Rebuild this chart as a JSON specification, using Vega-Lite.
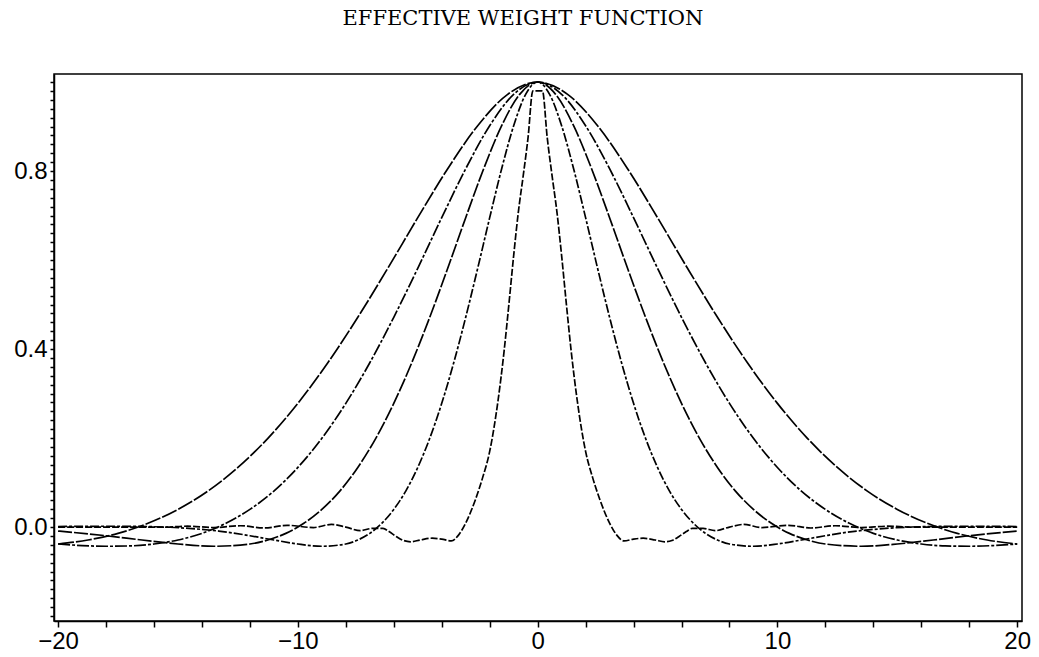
{
"$schema": "https://vega.github.io/schema/vega-lite/v6.json",
"width": 968, "height": 547,
"autosize": {"type": "none"},
"padding": {"left": 54, "top": 74, "right": 17, "bottom": 36},
"background": "white",
"title": {"text": "EFFECTIVE WEIGHT FUNCTION", "font": "DejaVu Serif", "fontSize": 21, "fontWeight": "normal", "color": "black", "offset": 41, "dx": -15},
"config": {
  "view": {"stroke": "black", "strokeWidth": 1.5},
  "axis": {"domainColor": "black", "domainWidth": 1.5, "tickColor": "black", "tickWidth": 1.5, "labelFont": "Liberation Sans", "labelFontSize": 24, "labelColor": "black", "grid": false, "labelOverlap": false, "labelFlush": false, "title": null, "labelPadding": 2}
},
"data": {"values": [
{"c":"A","x":-20,"y":-0.038},{"c":"A","x":-18.75,"y":-0.029},{"c":"A","x":-17.5,"y":-0.0141},{"c":"A","x":-16.25,"y":0.0085},{"c":"A","x":-15,"y":0.0397},{"c":"A","x":-13.75,"y":0.0809},{"c":"A","x":-12.5,"y":0.134},{"c":"A","x":-11.25,"y":0.1995},{"c":"A","x":-10,"y":0.278},{"c":"A","x":-8.75,"y":0.3692},{"c":"A","x":-7.5,"y":0.4714},{"c":"A","x":-6.25,"y":0.5815},{"c":"A","x":-5,"y":0.6952},{"c":"A","x":-3.75,"y":0.8052},{"c":"A","x":-2.5,"y":0.9018},{"c":"A","x":-1.25,"y":0.9723},{"c":"A","x":0,"y":1},
{"c":"A","x":1.25,"y":0.9723},{"c":"A","x":2.5,"y":0.9018},{"c":"A","x":3.75,"y":0.8052},{"c":"A","x":5,"y":0.6952},{"c":"A","x":6.25,"y":0.5815},{"c":"A","x":7.5,"y":0.4714},{"c":"A","x":8.75,"y":0.3692},{"c":"A","x":10,"y":0.278},{"c":"A","x":11.25,"y":0.1995},{"c":"A","x":12.5,"y":0.134},{"c":"A","x":13.75,"y":0.0809},{"c":"A","x":15,"y":0.0397},{"c":"A","x":16.25,"y":0.0085},{"c":"A","x":17.5,"y":-0.0141},{"c":"A","x":18.75,"y":-0.029},{"c":"A","x":20,"y":-0.038},
{"c":"B","x":-20,"y":-0.038},{"c":"B","x":-19,"y":-0.0415},{"c":"B","x":-18,"y":-0.0431},{"c":"B","x":-17,"y":-0.0423},{"c":"B","x":-16,"y":-0.038},{"c":"B","x":-15,"y":-0.029},{"c":"B","x":-14,"y":-0.0141},{"c":"B","x":-13,"y":0.0085},{"c":"B","x":-12,"y":0.0397},{"c":"B","x":-11,"y":0.0809},{"c":"B","x":-10,"y":0.134},{"c":"B","x":-9,"y":0.1995},{"c":"B","x":-8,"y":0.278},{"c":"B","x":-7,"y":0.3692},{"c":"B","x":-6,"y":0.4714},{"c":"B","x":-5,"y":0.5815},{"c":"B","x":-4,"y":0.6952},{"c":"B","x":-3,"y":0.8052},{"c":"B","x":-2,"y":0.9018},{"c":"B","x":-1,"y":0.9723},{"c":"B","x":0,"y":1},
{"c":"B","x":1,"y":0.9723},{"c":"B","x":2,"y":0.9018},{"c":"B","x":3,"y":0.8052},{"c":"B","x":4,"y":0.6952},{"c":"B","x":5,"y":0.5815},{"c":"B","x":6,"y":0.4714},{"c":"B","x":7,"y":0.3692},{"c":"B","x":8,"y":0.278},{"c":"B","x":9,"y":0.1995},{"c":"B","x":10,"y":0.134},{"c":"B","x":11,"y":0.0809},{"c":"B","x":12,"y":0.0397},{"c":"B","x":13,"y":0.0085},{"c":"B","x":14,"y":-0.0141},{"c":"B","x":15,"y":-0.029},{"c":"B","x":16,"y":-0.038},{"c":"B","x":17,"y":-0.0423},{"c":"B","x":18,"y":-0.0431},{"c":"B","x":19,"y":-0.0415},{"c":"B","x":20,"y":-0.038},
{"c":"C","x":-20,"y":-0.0089},{"c":"C","x":-18,"y":-0.0194},{"c":"C","x":-16.5,"y":-0.029},{"c":"C","x":-15,"y":-0.038},{"c":"C","x":-13.5,"y":-0.0431},{"c":"C","x":-12,"y":-0.038},{"c":"C","x":-11.25,"y":-0.029},{"c":"C","x":-10.5,"y":-0.0141},{"c":"C","x":-9.75,"y":0.0085},{"c":"C","x":-9,"y":0.0397},{"c":"C","x":-8.25,"y":0.0809},{"c":"C","x":-7.5,"y":0.134},{"c":"C","x":-6.75,"y":0.1995},{"c":"C","x":-6,"y":0.278},{"c":"C","x":-5.25,"y":0.3692},{"c":"C","x":-4.5,"y":0.4714},{"c":"C","x":-3.75,"y":0.5815},{"c":"C","x":-3,"y":0.6952},{"c":"C","x":-2.25,"y":0.8052},{"c":"C","x":-1.5,"y":0.9018},{"c":"C","x":-0.75,"y":0.9723},{"c":"C","x":0,"y":1},
{"c":"C","x":0.75,"y":0.9723},{"c":"C","x":1.5,"y":0.9018},{"c":"C","x":2.25,"y":0.8052},{"c":"C","x":3,"y":0.6952},{"c":"C","x":3.75,"y":0.5815},{"c":"C","x":4.5,"y":0.4714},{"c":"C","x":5.25,"y":0.3692},{"c":"C","x":6,"y":0.278},{"c":"C","x":6.75,"y":0.1995},{"c":"C","x":7.5,"y":0.134},{"c":"C","x":8.25,"y":0.0809},{"c":"C","x":9,"y":0.0397},{"c":"C","x":9.75,"y":0.0085},{"c":"C","x":10.5,"y":-0.0141},{"c":"C","x":11.25,"y":-0.029},{"c":"C","x":12,"y":-0.038},{"c":"C","x":13.5,"y":-0.0431},{"c":"C","x":15,"y":-0.038},{"c":"C","x":16.5,"y":-0.029},{"c":"C","x":18,"y":-0.0194},{"c":"C","x":20,"y":-0.0089},
{"c":"D","x":-20,"y":0.0012},{"c":"D","x":-18,"y":0.0019},{"c":"D","x":-16,"y":0.0008},{"c":"D","x":-14,"y":-0.0052},{"c":"D","x":-13.3,"y":-0.0089},{"c":"D","x":-12,"y":-0.0194},{"c":"D","x":-11,"y":-0.029},{"c":"D","x":-10,"y":-0.038},{"c":"D","x":-9,"y":-0.0431},{"c":"D","x":-8,"y":-0.038},{"c":"D","x":-7.5,"y":-0.029},{"c":"D","x":-7,"y":-0.0141},{"c":"D","x":-6.5,"y":0.0085},{"c":"D","x":-6,"y":0.0397},{"c":"D","x":-5.5,"y":0.0809},{"c":"D","x":-5,"y":0.134},{"c":"D","x":-4.5,"y":0.1995},{"c":"D","x":-4,"y":0.278},{"c":"D","x":-3.5,"y":0.3692},{"c":"D","x":-3,"y":0.4714},{"c":"D","x":-2.5,"y":0.5815},{"c":"D","x":-2,"y":0.6952},{"c":"D","x":-1.5,"y":0.8052},{"c":"D","x":-1,"y":0.9018},{"c":"D","x":-0.5,"y":0.9723},{"c":"D","x":0,"y":1},
{"c":"D","x":0.5,"y":0.9723},{"c":"D","x":1,"y":0.9018},{"c":"D","x":1.5,"y":0.8052},{"c":"D","x":2,"y":0.6952},{"c":"D","x":2.5,"y":0.5815},{"c":"D","x":3,"y":0.4714},{"c":"D","x":3.5,"y":0.3692},{"c":"D","x":4,"y":0.278},{"c":"D","x":4.5,"y":0.1995},{"c":"D","x":5,"y":0.134},{"c":"D","x":5.5,"y":0.0809},{"c":"D","x":6,"y":0.0397},{"c":"D","x":6.5,"y":0.0085},{"c":"D","x":7,"y":-0.0141},{"c":"D","x":7.5,"y":-0.029},{"c":"D","x":8,"y":-0.038},{"c":"D","x":9,"y":-0.0431},{"c":"D","x":10,"y":-0.038},{"c":"D","x":11,"y":-0.029},{"c":"D","x":12,"y":-0.0194},{"c":"D","x":13.3,"y":-0.0089},{"c":"D","x":14,"y":-0.0052},{"c":"D","x":16,"y":0.0008},{"c":"D","x":18,"y":0.0019},{"c":"D","x":20,"y":0.0012},
{"c":"E","x":-20,"y":0},{"c":"E","x":-17,"y":0},{"c":"E","x":-15.6,"y":0},{"c":"E","x":-14.6,"y":0.002},{"c":"E","x":-13.5,"y":-0.001},{"c":"E","x":-12.4,"y":0.003},{"c":"E","x":-11.4,"y":-0.002},{"c":"E","x":-10.45,"y":0.004},{"c":"E","x":-9.35,"y":-0.001},{"c":"E","x":-8.6,"y":0.006},{"c":"E","x":-8,"y":0},{"c":"E","x":-7.4,"y":-0.008},{"c":"E","x":-6.9,"y":-0.003},{"c":"E","x":-6.45,"y":-0.003},{"c":"E","x":-6.2,"y":-0.01},{"c":"E","x":-5.9,"y":-0.021},{"c":"E","x":-5.6,"y":-0.03},{"c":"E","x":-5.3,"y":-0.033},{"c":"E","x":-4.9,"y":-0.029},{"c":"E","x":-4.4,"y":-0.025},{"c":"E","x":-4,"y":-0.027},{"c":"E","x":-3.6,"y":-0.031},{"c":"E","x":-3.3,"y":-0.018},{"c":"E","x":-3,"y":0.009},{"c":"E","x":-2.6,"y":0.061},{"c":"E","x":-2.3,"y":0.11},{"c":"E","x":-2,"y":0.17},{"c":"E","x":-1.65,"y":0.285},{"c":"E","x":-1.4,"y":0.395},{"c":"E","x":-1.2,"y":0.5},{"c":"E","x":-1,"y":0.61},{"c":"E","x":-0.8,"y":0.71},{"c":"E","x":-0.6,"y":0.79},{"c":"E","x":-0.4,"y":0.875},{"c":"E","x":-0.2,"y":0.98},
{"c":"E","x":0.2,"y":0.98},{"c":"E","x":0.4,"y":0.875},{"c":"E","x":0.6,"y":0.79},{"c":"E","x":0.8,"y":0.71},{"c":"E","x":1,"y":0.61},{"c":"E","x":1.2,"y":0.5},{"c":"E","x":1.4,"y":0.395},{"c":"E","x":1.65,"y":0.285},{"c":"E","x":2,"y":0.17},{"c":"E","x":2.3,"y":0.11},{"c":"E","x":2.6,"y":0.061},{"c":"E","x":3,"y":0.009},{"c":"E","x":3.3,"y":-0.018},{"c":"E","x":3.6,"y":-0.031},{"c":"E","x":4,"y":-0.027},{"c":"E","x":4.4,"y":-0.025},{"c":"E","x":4.9,"y":-0.029},{"c":"E","x":5.3,"y":-0.033},{"c":"E","x":5.6,"y":-0.03},{"c":"E","x":5.9,"y":-0.021},{"c":"E","x":6.2,"y":-0.01},{"c":"E","x":6.45,"y":-0.003},{"c":"E","x":6.9,"y":-0.003},{"c":"E","x":7.4,"y":-0.008},{"c":"E","x":8,"y":0},{"c":"E","x":8.6,"y":0.006},{"c":"E","x":9.35,"y":-0.001},{"c":"E","x":10.45,"y":0.004},{"c":"E","x":11.4,"y":-0.002},{"c":"E","x":12.4,"y":0.003},{"c":"E","x":13.5,"y":-0.001},{"c":"E","x":14.6,"y":0.002},{"c":"E","x":15.6,"y":0},{"c":"E","x":17,"y":0},{"c":"E","x":20,"y":0}
]},
"mark": {"type": "line", "interpolate": "monotone", "color": "black", "strokeWidth": 1.7, "clip": true},
"encoding": {
  "x": {"field": "x", "type": "quantitative",
        "scale": {"domain": [-20.17, 20.2], "nice": false, "zero": false},
        "axis": {"values": [-20,-18,-16,-14,-12,-10,-8,-6,-4,-2,0,2,4,6,8,10,12,14,16,18,20], "format": "d", "labelExpr": "datum.value % 10 === 0 ? datum.label : ''", "tickSize": 6}},
  "y": {"field": "y", "type": "quantitative",
        "scale": {"domain": [-0.211, 1.018], "nice": false, "zero": false},
        "axis": {"values": [-0.2,-0.18,-0.16,-0.14,-0.12,-0.1,-0.08,-0.06,-0.04,-0.02,0,0.02,0.04,0.06,0.08,0.1,0.12,0.14,0.16,0.18,0.2,0.22,0.24,0.26,0.28,0.3,0.32,0.34,0.36,0.38,0.4,0.42,0.44,0.46,0.48,0.5,0.52,0.54,0.56,0.58,0.6,0.62,0.64,0.66,0.68,0.7,0.72,0.74,0.76,0.78,0.8,0.82,0.84,0.86,0.88,0.9,0.92,0.94,0.96,0.98,1.0], "format": ".1f", "labelExpr": "abs(round(datum.value * 100)) % 40 === 0 ? datum.label : ''", "tickSize": 4, "labelPadding": 3}},
  "detail": {"field": "c", "type": "nominal"},
  "strokeDash": {"field": "c", "type": "nominal", "scale": {"domain": ["A","B","C","D","E"], "range": [[16,2],[12,2,3,2],[14,2],[9,2,3,2],[7,2]]}, "legend": null}
}
}
